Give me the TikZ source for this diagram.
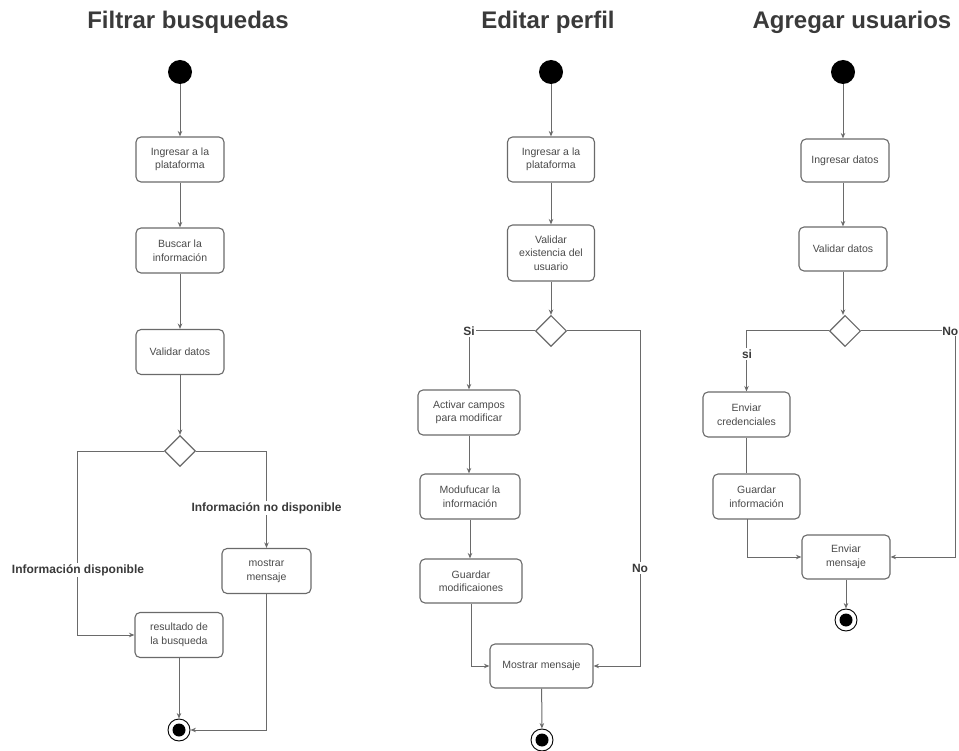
\documentclass[tikz,border=0pt]{standalone}
\usepackage{fontspec}
\setmainfont{Liberation Sans}
\usetikzlibrary{shapes.geometric,arrows.meta}
\definecolor{linec}{HTML}{6A6A6A}
\definecolor{textc}{HTML}{4A4A4A}
\definecolor{titlec}{HTML}{3A3A3A}
\tikzset{
  act/.style={draw=linec, line width=1.1pt, rounded corners=5pt, fill=white, align=center,
    text=textc, font=\fontsize{10.5}{13.5}\selectfont, inner sep=1pt},
  dec/.style={draw=linec, line width=1.1pt, diamond, aspect=1, minimum width=31pt, minimum height=31pt, inner sep=0pt, fill=white},
  startn/.style={circle, fill=black, minimum size=24pt, inner sep=0pt},
  endn/.style={circle, draw=black, line width=0.9pt, fill=white, minimum size=22pt, inner sep=0pt,
    path picture={\fill[black] (path picture bounding box.center) circle (6.5pt);}},
  flow/.style={draw=linec, line width=1pt, -{Stealth[length=5.5pt,width=4.5pt]}},
  plain/.style={draw=linec, line width=1pt},
  lbl/.style={fill=white, text=titlec, font=\bfseries\fontsize{12}{13}\selectfont, inner sep=1.5pt},
  ttl/.style={text=titlec, font=\bfseries\fontsize{24}{27}\selectfont}
}
\begin{document}
\begin{tikzpicture}[x=1pt,y=-1pt]
\useasboundingbox (0,0) rectangle (959,751);
% ---------- Filtrar busquedas ----------
\node[ttl] (t1) at (188,22) {Filtrar busquedas};
\node[startn] (s1) at (180,72) {};
\node[act, minimum width=88pt, minimum height=45pt] (ing1) at (180,159.5) {Ingresar a la\\plataforma};
\node[act, minimum width=88pt, minimum height=45pt] (bus1) at (180,250.5) {Buscar la\\información};
\node[act, minimum width=88pt, minimum height=45pt] (val1) at (180,352) {Validar datos};
\node[dec] (d1) at (180,451) {};
\node[act, minimum width=89pt, minimum height=45pt] (mos1) at (266.5,571) {mostrar\\mensaje};
\node[act, minimum width=88pt, minimum height=45pt] (res1) at (179,635) {resultado de\\la busqueda};
\node[endn] (e1) at (179,730) {};
\coordinate (c1l) at (77,451);
\coordinate (c1r) at (266.5,451);
\draw[flow] (s1) -- (ing1);
\draw[flow] (ing1) -- (bus1);
\draw[flow] (bus1) -- (val1);
\draw[flow] (val1) -- (d1);
\draw[flow] (d1.west) -- (c1l) |- (res1.west);
\draw[flow] (d1.east) -- (c1r) -- (mos1.north);
\draw[flow] (res1) -- (e1);
\draw[flow] (mos1.south) |- (e1.east);
\node[lbl] (l1a) at (266.5,508) {Información no disponible};
\node[lbl] (l1b) at (78,570) {Información disponible};
% ---------- Editar perfil ----------
\node[ttl] (t2) at (548,22) {Editar perfil};
\node[startn] (s2) at (551,72) {};
\node[act, minimum width=87pt, minimum height=45pt] (ing2) at (551,159.5) {Ingresar a la\\plataforma};
\node[act, minimum width=87pt, minimum height=56pt] (val2) at (551,253) {Validar\\existencia del\\usuario};
\node[dec] (d2) at (551,331) {};
\node[act, minimum width=102pt, minimum height=45pt] (act2) at (469,412.5) {Activar campos\\para modificar};
\node[act, minimum width=100pt, minimum height=45pt] (mod2) at (470,496.5) {Modufucar la\\información};
\node[act, minimum width=102pt, minimum height=44pt] (gua2) at (471,581) {Guardar\\modificaiones};
\node[act, minimum width=103pt, minimum height=44pt] (mm2) at (541.5,666) {Mostrar mensaje};
\node[endn] (e2) at (542,740) {};
\coordinate (c2r) at (640,331);
\draw[flow] (s2) -- (ing2);
\draw[flow] (ing2) -- (val2);
\draw[flow] (val2) -- (d2);
\draw[flow] (d2.west) -| (act2.north);
\draw[flow] (act2.south) -- (act2.south |- mod2.north);
\draw[flow] (mod2.south) -- (mod2.south |- gua2.north);
\draw[flow] (gua2.south) |- (mm2.west);
\draw[flow] (d2.east) -- (c2r) |- (mm2.east);
\draw[flow] (mm2) -- (e2);
\node[lbl] (l2a) at (469,331) {Si};
\node[lbl] (l2b) at (640,568) {No};
% ---------- Agregar usuarios ----------
\node[ttl] (t3) at (852,22) {Agregar usuarios};
\node[startn] (s3) at (843,72) {};
\node[act, minimum width=88pt, minimum height=43pt] (ing3) at (845,160.5) {Ingresar datos};
\node[act, minimum width=88pt, minimum height=44pt] (val3) at (843,249) {Validar datos};
\node[dec] (d3) at (845,331) {};
\node[act, minimum width=87pt, minimum height=45pt] (env3) at (746.5,414.5) {Enviar\\credenciales};
\node[act, minimum width=87pt, minimum height=45pt] (gua3) at (756.5,496.5) {Guardar\\información};
\node[act, minimum width=88pt, minimum height=44pt] (em3) at (846,557) {Enviar\\mensaje};
\node[endn] (e3) at (846,620) {};
\coordinate (c3r) at (955,331);
\coordinate (c3a) at (747,519);
\draw[flow] (s3) -- (s3 |- ing3.north);
\draw[flow] (ing3.south -| val3) -- (val3.north);
\draw[flow] (val3.south) -- (val3.south |- d3.north);
\draw[flow] (d3.west) -| (env3.north);
\draw[plain] (env3.south) -- (env3.south |- gua3.north);
\draw[flow] (c3a) |- (em3.west);
\draw[flow] (d3.east) -- (c3r) |- (em3.east);
\draw[flow] (em3) -- (e3);
\node[lbl] (l3a) at (747,354) {si};
\node[lbl, anchor=east, inner sep=0.5pt] (l3b) at (959,331) {No};
\end{tikzpicture}
\end{document}
